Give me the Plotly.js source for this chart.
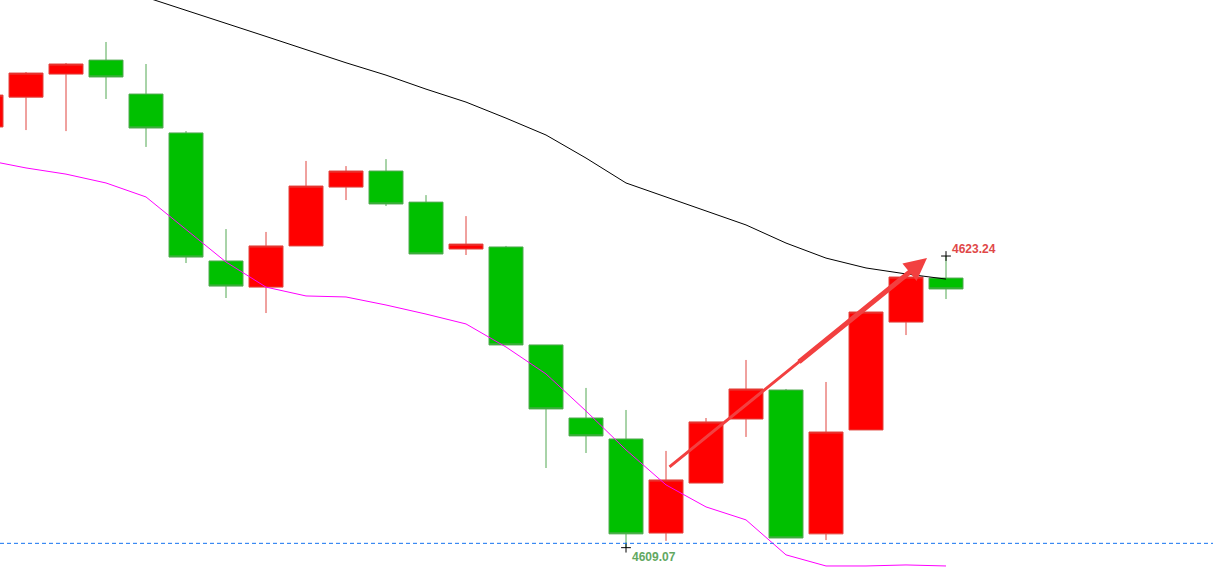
<!DOCTYPE html>
<html>
<head>
<meta charset="utf-8">
<script src="https://cdn.plot.ly/plotly-3.0.1.min.js"></script>
<style>
  html, body { margin: 0; padding: 0; background: #fff; }
  #plot { width: 1213px; height: 588px; }
</style>
</head>
<body>
<div id="plot"></div>
<script>
// bar index, one per candle
var idx = [0, 1, 2, 3, 4, 5, 6, 7, 8, 9, 10, 11, 12, 13, 14, 15, 16, 17, 18, 19, 20, 21, 22, 23, 24];

var open  = [4629.51, 4630.96, 4632.08, 4632.76, 4631.11, 4629.22, 4623.00, 4621.73, 4623.73, 4626.59,
             4627.37, 4625.86, 4623.58, 4623.68, 4618.92, 4615.37, 4614.35, 4609.78, 4612.21, 4615.32,
             4616.73, 4609.74, 4614.79, 4620.03, 4622.17];
var high  = [4631.20, 4632.18, 4632.62, 4633.64, 4632.57, 4629.31, 4624.55, 4624.41, 4627.86, 4627.61,
             4627.95, 4626.20, 4625.18, 4623.73, 4618.92, 4616.83, 4615.76, 4613.77, 4615.37, 4618.19,
             4616.78, 4617.12, 4620.52, 4622.22, 4623.24];
var low   = [4629.40, 4629.36, 4629.31, 4630.87, 4628.54, 4622.90, 4621.20, 4620.47, 4623.73, 4625.96,
             4625.67, 4623.34, 4623.29, 4618.92, 4612.94, 4613.67, 4609.07, 4609.40, 4612.21, 4614.45,
             4609.54, 4609.44, 4614.79, 4619.40, 4621.15];
var close = [4631.06, 4632.13, 4632.57, 4631.94, 4629.46, 4623.19, 4621.78, 4623.73, 4626.64, 4627.37,
             4625.77, 4623.34, 4623.82, 4618.92, 4615.81, 4614.50, 4609.74, 4612.36, 4615.18, 4616.78,
             4609.54, 4614.69, 4620.52, 4622.22, 4621.64];

// slow average (black) and fast average (magenta)
var maSlow = [4638.35, 4637.72, 4637.09, 4636.45, 4635.82, 4635.19, 4634.56, 4633.91, 4633.27, 4632.63,
              4632.03, 4631.35, 4630.72, 4629.94, 4629.12, 4628.00, 4626.79, 4626.11, 4625.43, 4624.75,
              4623.87, 4623.14, 4622.66, 4622.37, 4622.12];
var maFast = [4627.90, 4627.52, 4627.22, 4626.79, 4626.11, 4624.55, 4622.95, 4621.73, 4621.30, 4621.25,
              4620.86, 4620.42, 4619.94, 4618.82, 4617.51, 4615.71, 4613.82, 4612.12, 4611.05, 4610.42,
              4608.72, 4608.18, 4608.18, 4608.23, 4608.18];

var hiLabel = "4623.24", hiIdx = 24, hiVal = 4623.24;
var loLabel = "4609.07", loIdx = 16, loVal = 4609.07;
var dashLevel = 4609.28;
var arrowFrom = [17.05, 4612.94], arrowTo = [23.525, 4623.14];

// point on the arrow at fraction t of its length
function along(t) {
  return [arrowFrom[0] + t * (arrowTo[0] - arrowFrom[0]), arrowFrom[1] + t * (arrowTo[1] - arrowFrom[1])];
}
var tailEnd = along(0.62), headStart = along(0.5);

var candles = {
  type: 'candlestick',
  x: idx, open: open, high: high, low: low, close: close,
  increasing: { line: { color: '#e0443e', width: 1 }, fillcolor: '#ff0000' },
  decreasing: { line: { color: '#52a852', width: 1 }, fillcolor: '#00c000' },
  whiskerwidth: 0,
  hoverinfo: 'skip',
  showlegend: false
};

var slow = {
  type: 'scatter', mode: 'lines', x: idx, y: maSlow,
  line: { color: '#000000', width: 1 }, hoverinfo: 'skip', showlegend: false
};

var fast = {
  type: 'scatter', mode: 'lines', x: idx, y: maFast,
  line: { color: '#ff00ff', width: 1 }, hoverinfo: 'skip', showlegend: false
};

var marks = {
  type: 'scatter', mode: 'markers', x: [hiIdx, loIdx], y: [hiVal, loVal],
  marker: { symbol: 'cross-thin', size: 7, line: { color: '#000', width: 1 } },
  hoverinfo: 'skip', showlegend: false
};

var layout = {
  width: 1213, height: 588,
  margin: { l: 0, r: 0, t: 0, b: 0 },
  paper_bgcolor: '#fff', plot_bgcolor: '#fff',
  boxgap: 0.15, boxgroupgap: 0,
  xaxis: { range: [0.35, 30.675], showgrid: false, zeroline: false, showticklabels: false,
           showline: false, ticks: '', rangeslider: { visible: false }, fixedrange: true },
  yaxis: { range: [4607.11, 4635.68], showgrid: false, zeroline: false, showticklabels: false,
           showline: false, ticks: '', fixedrange: true },
  shapes: [{
    type: 'line', xref: 'paper', x0: 0, x1: 1, yref: 'y', y0: dashLevel, y1: dashLevel,
    line: { color: '#1473f0', width: 1, dash: '4px,3px' }
  }],
  annotations: [
    { x: hiIdx, y: hiVal, text: hiLabel, showarrow: false, xanchor: 'left', yanchor: 'bottom',
      xshift: 4, yshift: -2, font: { family: 'Liberation Sans, Arial', size: 12, color: '#e04848', weight: 'bold' } },
    { x: loIdx, y: loVal, text: loLabel, showarrow: false, xanchor: 'left', yanchor: 'top',
      xshift: 4, yshift: 0, font: { family: 'Liberation Sans, Arial', size: 12, color: '#62a862', weight: 'bold' } },
    // thin tail part of the arrow
    { x: tailEnd[0], y: tailEnd[1], ax: arrowFrom[0], ay: arrowFrom[1], axref: 'x', ayref: 'y',
      text: '', showarrow: true, arrowhead: 0, arrowwidth: 3, arrowcolor: '#f24040' },
    // thicker front part with head
    { x: arrowTo[0], y: arrowTo[1], ax: headStart[0], ay: headStart[1], axref: 'x', ayref: 'y',
      text: '', showarrow: true, arrowhead: 2, arrowsize: 0.9, arrowwidth: 5, arrowcolor: '#f24040' }
  ]
};

Plotly.newPlot('plot', [fast, slow, candles, marks], layout, { displayModeBar: false, staticPlot: true });
</script>
</body>
</html>
